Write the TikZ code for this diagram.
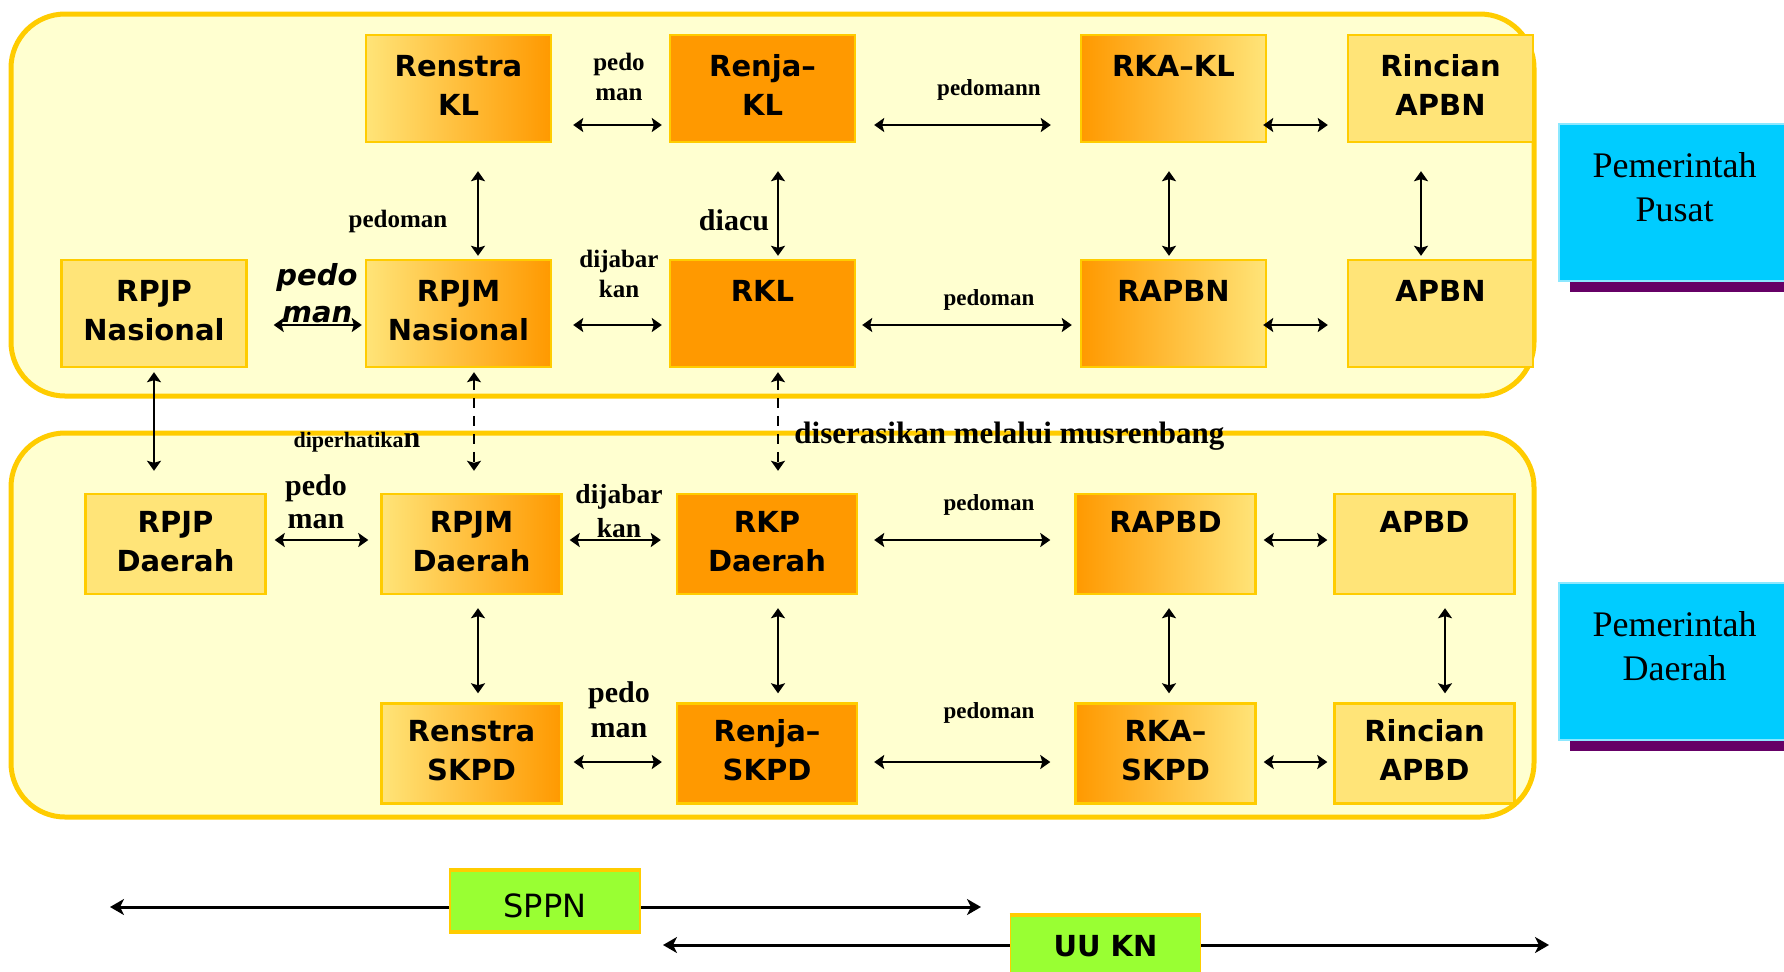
\documentclass[tikz,border=0pt]{standalone}
\usepackage{fontspec}
\setmainfont{Liberation Serif}
\newfontfamily\boxfont{DejaVu Sans}
\usetikzlibrary{arrows.meta,calc,shadows}
\definecolor{framefill}{RGB}{255,255,208}
\definecolor{framegold}{RGB}{255,204,0}
\definecolor{boxyellow}{RGB}{255,228,120}
\definecolor{boxorange}{RGB}{255,153,0}
\definecolor{govcyan}{RGB}{0,204,255}
\definecolor{govedge}{RGB}{140,232,255}
\definecolor{govpurple}{RGB}{102,0,102}
\definecolor{lawgreen}{RGB}{153,255,51}
\newcommand{\twolines}[2]{\begin{tabular}[t]{@{}c@{}}#1\\#2\end{tabular}}

\begin{document}
\begin{tikzpicture}[x=0.5pt,y=-0.5pt,
  frame/.style={draw=framegold, line width=2.5pt, fill=framefill, rounded corners=27pt},
  plan/.style={draw=framegold, line width=1.2pt, inner sep=0pt,
    font=\boxfont\bfseries\fontsize{14.5}{19.5}\selectfont},
  bigplan/.style={plan, minimum width=92.5pt, minimum height=53.5pt},
  smallplan/.style={plan, minimum width=90pt, minimum height=50pt},
  flat/.style={fill=boxyellow},
  hot/.style={fill=boxorange},
  warm/.style={left color=boxyellow, right color=boxorange},
  cool/.style={left color=boxorange, right color=boxyellow},
  link/.style={{Stealth[length=5pt,width=7pt,inset=1pt]}-{Stealth[length=5pt,width=7pt,inset=1pt]}, line width=1pt},
  dashlink/.style={link, line width=0.8pt, dash pattern=on 5pt off 4pt},
  longlink/.style={{Stealth[length=7pt,width=8pt,inset=2pt]}-{Stealth[length=7pt,width=8pt,inset=2pt]}, line width=1.5pt},
  tag/.style={anchor=base, inner sep=0pt, font=\bfseries\fontsize{11.5}{14}\selectfont},
  govbox/.style={fill=govcyan, draw=govedge, line width=1pt, inner sep=0pt,
    minimum width=115.5pt, minimum height=78.5pt, text depth=40pt,
    font=\fontsize{18}{22}\selectfont,
    drop shadow={shadow xshift=5.5pt, shadow yshift=-5.5pt, fill=govpurple, opacity=1}},
  lawbox/.style={fill=lawgreen, draw=framegold, line width=0.8pt, inner sep=0pt,
    minimum width=95pt, minimum height=30pt, font=\boxfont\fontsize{16}{19}\selectfont}
]
  \useasboundingbox (0,0) rectangle (1784,971);
  \clip (0,0) rectangle (1784,971);

  % Frames
  \draw[frame] (11,14) rectangle (1534,396);
  \draw[frame] (11,433) rectangle (1534,817);

  % Pemerintah Pusat
  \node[bigplan, warm] (renstrakl) at (458.5,88.5) {\twolines{Renstra}{KL}};
  \node[bigplan, hot] (renjakl) at (762.5,88.5) {\twolines{Renja–}{KL}};
  \node[bigplan, cool] (rkakl) at (1173.5,88.5) {\twolines{RKA–KL}{\mbox{}}};
  \node[bigplan, flat] (rincianapbn) at (1440.5,88.5) {\twolines{Rincian}{APBN}};
  \node[bigplan, flat] (rpjpnas) at (154,313.5) {\twolines{RPJP}{Nasional}};
  \node[bigplan, warm] (rpjmnas) at (458.5,313.5) {\twolines{RPJM}{Nasional}};
  \node[bigplan, hot] (rkl) at (762.5,313.5) {\twolines{RKL}{\mbox{}}};
  \node[bigplan, cool] (rapbn) at (1173.5,313.5) {\twolines{RAPBN}{\mbox{}}};
  \node[bigplan, flat] (apbn) at (1440.5,313.5) {\twolines{APBN}{\mbox{}}};

  % Pemerintah Daerah
  \node[smallplan, flat] (rpjpdae) at (175.5,544) {\twolines{RPJP}{Daerah}};
  \node[smallplan, warm] (rpjmdae) at (471.5,544) {\twolines{RPJM}{Daerah}};
  \node[smallplan, hot] (rkpdae) at (767,544) {\twolines{RKP}{Daerah}};
  \node[smallplan, cool] (rapbd) at (1165.5,544) {\twolines{RAPBD}{\mbox{}}};
  \node[smallplan, flat] (apbd) at (1424.5,544) {\twolines{APBD}{\mbox{}}};
  \node[smallplan, warm] (renstraskpd) at (471.5,753.5) {\twolines{Renstra}{SKPD}};
  \node[smallplan, hot] (renjaskpd) at (767,753.5) {\twolines{Renja–}{SKPD}};
  \node[smallplan, cool] (rkaskpd) at (1165.5,753.5) {\twolines{RKA–}{SKPD}};
  \node[smallplan, flat] (rincianapbd) at (1424.5,753.5) {\twolines{Rincian}{APBD}};

  % Side boxes
  \node[govbox] (pusat) at (1674.5,202.5) {\twolines{Pemerintah}{Pusat}};
  \node[govbox] (daerah) at (1674.5,661.5) {\twolines{Pemerintah}{Daerah}};

  % Labels
  \node[tag, font=\bfseries\fontsize{12.5}{15}\selectfont] at (619,70) {\twolines{pedo}{man}};
  \node[tag] at (989,95) {pedomann};
  \node[tag, font=\bfseries\fontsize{12.5}{15}\selectfont] at (398,227) {pedoman};
  \node[tag, font=\bfseries\fontsize{15}{18}\selectfont] at (734,230) {diacu};
  \node[tag, font=\boxfont\bfseries\itshape\fontsize{14.5}{18.5}\selectfont] at (317,285) {\twolines{pedo}{man}};
  \node[tag, font=\bfseries\fontsize{12.5}{15}\selectfont] at (619,267) {\twolines{dijabar}{kan}};
  \node[tag] at (989,305) {pedoman};
  \node[tag, font=\bfseries\fontsize{11}{13}\selectfont] at (357,447) {diperhatika{\fontsize{15}{18}\selectfont n}};
  \node[tag, anchor=base west, font=\bfseries\fontsize{15.5}{18}\selectfont] at (794,443) {diserasikan melalui musrenbang};
  \node[tag, font=\bfseries\fontsize{15}{16.5}\selectfont] at (316,495) {\twolines{pedo}{man}};
  \node[tag, font=\bfseries\fontsize{13.75}{17}\selectfont] at (619,503) {\twolines{dijabar}{kan}};
  \node[tag] at (989,510) {pedoman};
  \node[tag, font=\bfseries\fontsize{15}{17.5}\selectfont] at (619,702) {\twolines{pedo}{man}};
  \node[tag] at (989,718) {pedoman};

  % Horizontal links, pusat
  \draw[link, shorten <=10.5pt, shorten >=3.5pt] ([yshift=-18.25pt]renstrakl.east) -- ([yshift=-18.25pt]renjakl.west);
  \draw[link, shorten <=9pt, shorten >=14.5pt] ([yshift=-18.25pt]renjakl.east) -- ([yshift=-18.25pt]rkakl.west);
  \draw[link, shorten <=-2pt, shorten >=9.5pt] ([yshift=-18.25pt]rkakl.east) -- ([yshift=-18.25pt]rincianapbn.west);
  \draw[link, shorten <=13pt, shorten >=1.5pt] ([yshift=-5.75pt]rpjpnas.east) -- ([yshift=-5.75pt]rpjmnas.west);
  \draw[link, shorten <=10.5pt, shorten >=3.5pt] ([yshift=-5.75pt]rpjmnas.east) -- ([yshift=-5.75pt]rkl.west);
  \draw[link, shorten <=3pt, shorten >=4pt] ([yshift=-5.75pt]rkl.east) -- ([yshift=-5.75pt]rapbn.west);
  \draw[link, shorten <=-2pt, shorten >=9.5pt] ([yshift=-5.75pt]rapbn.east) -- ([yshift=-5.75pt]apbn.west);

  % Vertical links, pusat
  \draw[link, shorten <=14pt, shorten >=1.5pt] ([xshift=9.75pt]renstrakl.south) -- ([xshift=9.75pt]rpjmnas.north);
  \draw[link, shorten <=14pt, shorten >=1.5pt] ([xshift=7.75pt]renjakl.south) -- ([xshift=7.75pt]rkl.north);
  \draw[link, shorten <=14pt, shorten >=1.5pt] ([xshift=-2.25pt]rkakl.south) -- ([xshift=-2.25pt]rapbn.north);
  \draw[link, shorten <=14pt, shorten >=1.5pt] ([xshift=-9.75pt]rincianapbn.south) -- ([xshift=-9.75pt]apbn.north);

  % Links between pusat and daerah
  \draw[link, shorten <=2pt, shorten >=11pt] (rpjpnas.south) -- (rpjpnas.south |- rpjpdae.north);
  \draw[dashlink, shorten <=2pt, shorten >=11pt] ([xshift=7.75pt]rpjmnas.south) -- ($(rpjmnas.south |- rpjmdae.north)+(7.75pt,0)$);
  \draw[dashlink, shorten <=2pt, shorten >=11pt] ([xshift=7.75pt]rkl.south) -- ($(rkl.south |- rkpdae.north)+(7.75pt,0)$);

  % Horizontal links, daerah
  \draw[link, shorten <=4pt, shorten >=6pt] ([yshift=2pt]rpjpdae.east) -- ([yshift=2pt]rpjmdae.west);
  \draw[link, shorten <=3.5pt, shorten >=7.5pt] ([yshift=2pt]rpjmdae.east) -- ([yshift=2pt]rkpdae.west);
  \draw[link, shorten <=8pt, shorten >=12pt] ([yshift=2pt]rkpdae.east) -- ([yshift=2pt]rapbd.west);
  \draw[link, shorten <=3.5pt, shorten >=3pt] ([yshift=2pt]rapbd.east) -- ([yshift=2pt]apbd.west);
  \draw[link, shorten <=5.5pt, shorten >=7pt] ([yshift=-4.25pt]renstraskpd.east) -- ([yshift=-4.25pt]renjaskpd.west);
  \draw[link, shorten <=8pt, shorten >=12pt] ([yshift=-4.25pt]renjaskpd.east) -- ([yshift=-4.25pt]rkaskpd.west);
  \draw[link, shorten <=3.5pt, shorten >=3pt] ([yshift=-4.25pt]rkaskpd.east) -- ([yshift=-4.25pt]rincianapbd.west);

  % Vertical links, daerah
  \draw[link, shorten <=6.5pt, shorten >=4.5pt] ([xshift=3.25pt]rpjmdae.south) -- ([xshift=3.25pt]renstraskpd.north);
  \draw[link, shorten <=6.5pt, shorten >=4.5pt] ([xshift=5.5pt]rkpdae.south) -- ([xshift=5.5pt]renjaskpd.north);
  \draw[link, shorten <=6.5pt, shorten >=4.5pt] ([xshift=1.75pt]rapbd.south) -- ([xshift=1.75pt]rkaskpd.north);
  \draw[link, shorten <=6.5pt, shorten >=4.5pt] ([xshift=10.25pt]apbd.south) -- ([xshift=10.25pt]rincianapbd.north);

  % SPPN and UU KN
  \coordinate (sppnL) at (110,907);
  \coordinate (sppnR) at (981,907);
  \draw[longlink] (sppnL) -- (sppnR);
  \node[lawbox, text height=16.7pt] (sppn) at (545,901) {SPPN};
  \draw[framegold, line width=2pt] (sppn.north west) -- (sppn.north east) (sppn.south west) -- (sppn.south east);
  \coordinate (uuknL) at (663,945);
  \coordinate (uuknR) at (1549,945);
  \draw[longlink] (uuknL) -- (uuknR);
  \node[lawbox, font=\boxfont\bfseries\fontsize{14.5}{17}\selectfont] (uukn) at (1105.5,946) {UU KN};
  \draw[framegold, line width=2pt] (uukn.north west) -- (uukn.north east);
\end{tikzpicture}
\end{document}
